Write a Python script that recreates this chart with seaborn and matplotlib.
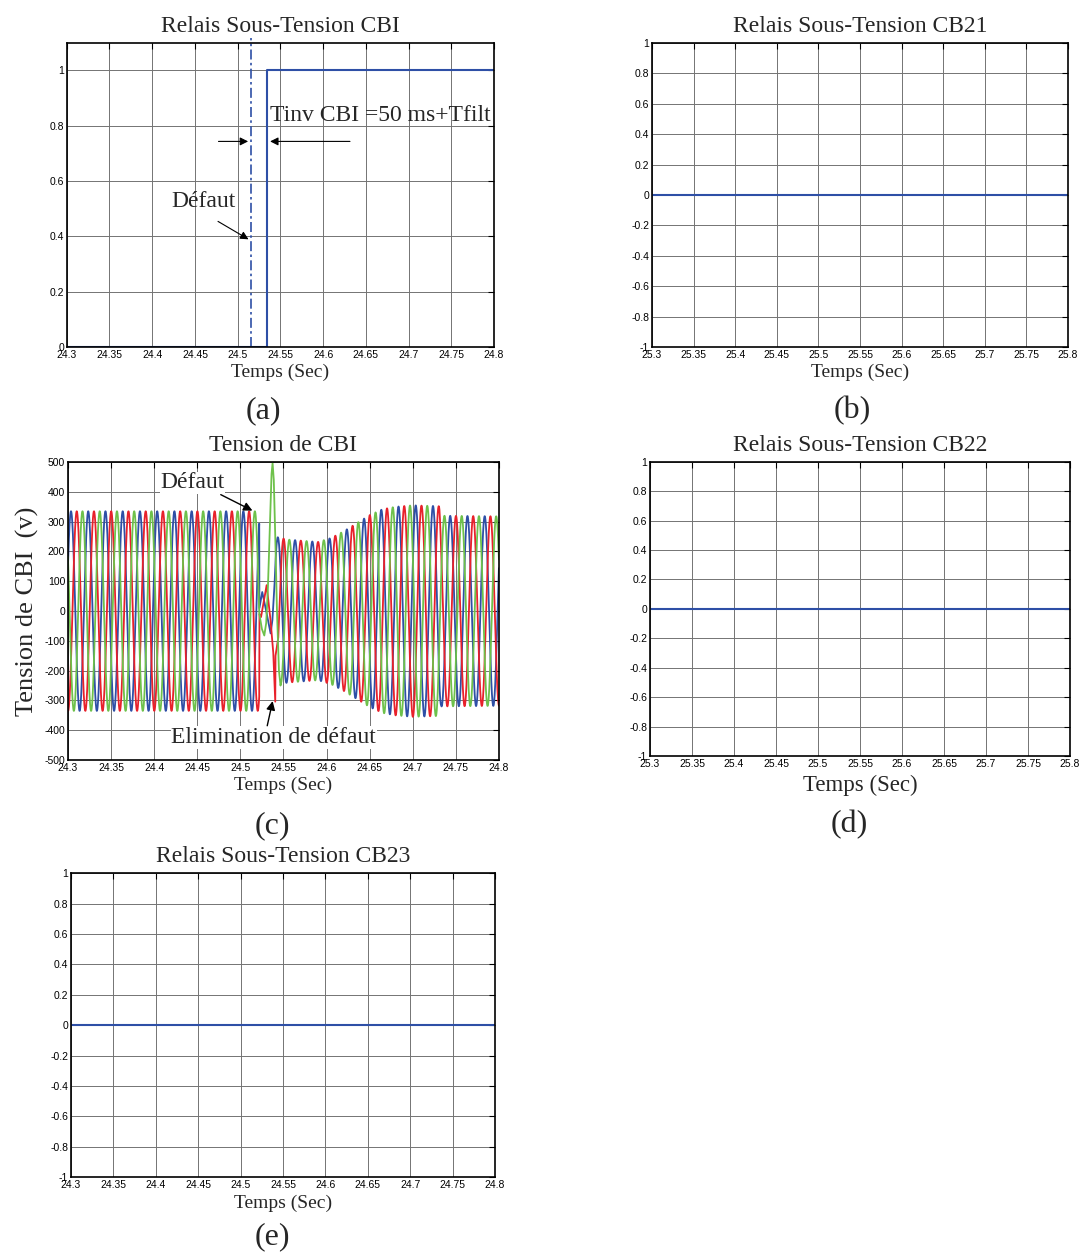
import numpy as np
import pandas as pd
import matplotlib
matplotlib.use("Agg")
import matplotlib.pyplot as plt
import seaborn as sns

# ---- data ----
# (a) undervoltage relay CBI : step 0 -> 1
relay_a_t = [24.3, 24.5347, 24.5347, 24.8]
relay_a_v = [0, 0, 1, 1]
defaut_a_t = 24.5155          # dash-dot fault instant

# (b), (d), (e) relays stay at 0
relay_b_t = [25.3, 25.8]
relay_d_t = [25.3, 25.8]
relay_e_t = [24.3, 24.8]
relay_flat_v = [0, 0]

# (c) three-phase voltage at CBI
f_net = 50.0                  # Hz
phase0 = 0.47                 # rad, blue phase at t = 24.3
t_fault = 24.5219
env_t = [24.3, 24.5219, 24.540, 24.555, 24.59, 24.605, 24.62, 24.635, 24.65,
         24.665, 24.68, 24.70, 24.731, 24.733, 24.8]
env_a = [335, 335, 250, 240, 232, 245, 268, 295, 322,
         342, 350, 355, 352, 320, 318]

blue_fault_t = [24.5221, 24.5254, 24.5300, 24.5351, 24.5372]
blue_fault_v = [10, 64, 0, -75, -30]
blue_resume = 24.5395

red_fault_t = [24.5222, 24.5240, 24.5305, 24.5350, 24.5382, 24.5405, 24.5408]
red_fault_v = [-10, -20, 87, -30, -140, -304, -150]
red_resume = 24.5440

green_fault_t = [24.5250, 24.5278, 24.5300, 24.5320, 24.5345, 24.5362, 24.5374,
                 24.5388, 24.5405, 24.5425, 24.5448, 24.5466]
green_fault_v = [-60, -82, -40, 80, 300, 460, 497, 440, 250, 0, -200, -250]
green_resume = 24.5475

x_ticks_24 = [24.3, 24.35, 24.4, 24.45, 24.5, 24.55, 24.6, 24.65, 24.7, 24.75, 24.8]
x_ticks_25 = [25.3, 25.35, 25.4, 25.45, 25.5, 25.55, 25.6, 25.65, 25.7, 25.75, 25.8]
y_ticks_relay = [-1, -0.8, -0.6, -0.4, -0.2, 0, 0.2, 0.4, 0.6, 0.8, 1]
y_ticks_a = [0, 0.2, 0.4, 0.6, 0.8, 1]
y_ticks_volt = [-500, -400, -300, -200, -100, 0, 100, 200, 300, 400, 500]

BLUE = "#2e4fa6"
RED = "#e8212b"
GREEN = "#6ec14b"

sns.set_style("white")
plt.rcParams["font.family"] = ["Liberation Serif", "DejaVu Serif"]
SANS = "Liberation Sans"
TITLE_FS = 17
XLAB_FS = 14

fig = plt.figure(figsize=(10.91, 12.54), dpi=100)
ax_a = fig.add_axes([0.0612, 0.7233, 0.3916, 0.2427])
ax_b = fig.add_axes([0.5976, 0.7233, 0.3813, 0.2424])
ax_c = fig.add_axes([0.0623, 0.3939, 0.3950, 0.2376])
ax_d = fig.add_axes([0.5958, 0.3971, 0.3850, 0.2347])
ax_e = fig.add_axes([0.0651, 0.0612, 0.3886, 0.2424])


def matlab_axes(ax, xt, yt, ylim):
    ax.set_xlim(xt[0], xt[-1])
    ax.set_ylim(*ylim)
    ax.set_xticks(xt)
    ax.set_yticks(yt)
    ax.set_xticklabels(["%g" % v for v in xt], fontfamily=SANS, fontsize=7.5)
    ax.set_yticklabels(["%g" % v for v in yt], fontfamily=SANS, fontsize=7.5)
    ax.grid(True, color="0.45", lw=0.7)
    ax.tick_params(direction="in", length=4, width=0.8, top=True, right=True,
                   pad=2, colors="black")
    for s in ax.spines.values():
        s.set_color("black")
        s.set_linewidth(1.2)
    ax.set_axisbelow(True)


def sine(t, offset):
    amp = np.interp(t, env_t, env_a)
    return amp * np.sin(2 * np.pi * f_net * (t - 24.3) + phase0 + offset)


# ---- (a) ----
sns.lineplot(x=relay_a_t, y=relay_a_v, ax=ax_a, color=BLUE, lw=1.5, sort=False,
             estimator=None)
ax_a.plot([defaut_a_t, defaut_a_t], [0, 1.115], color=BLUE, lw=1.2,
          ls=(0, (6, 2, 1.5, 2)), clip_on=False)
matlab_axes(ax_a, x_ticks_24, y_ticks_a, (0, 1.1))
ax_a.set_title("Relais Sous-Tension CBI", fontsize=TITLE_FS, pad=8)
ax_a.set_xlabel("Temps (Sec)", fontsize=XLAB_FS, labelpad=3)
ax_a.text(24.538, 0.835, "Tinv CBI =50 ms+Tfilt", fontsize=17, va="center",
          ha="left")
ax_a.annotate("", xy=(defaut_a_t, 0.743), xytext=(24.4743, 0.743),
              arrowprops=dict(arrowstyle="-|>", color="black", lw=0.8,
                              mutation_scale=12))
ax_a.annotate("", xy=(24.5347, 0.743), xytext=(24.6347, 0.743),
              arrowprops=dict(arrowstyle="-|>", color="black", lw=0.8,
                              mutation_scale=12))
ax_a.text(24.4605, 0.525, "Défaut", fontsize=17, ha="center", va="center")
ax_a.annotate("", xy=(defaut_a_t, 0.384), xytext=(24.4742, 0.459),
              arrowprops=dict(arrowstyle="-|>", color="black", lw=0.8,
                              mutation_scale=12))

# ---- (b) ----
sns.lineplot(x=relay_b_t, y=relay_flat_v, ax=ax_b, color=BLUE, lw=1.5)
matlab_axes(ax_b, x_ticks_25, y_ticks_relay, (-1, 1))
ax_b.set_title("Relais Sous-Tension CB21", fontsize=TITLE_FS, pad=8)
ax_b.set_xlabel("Temps (Sec)", fontsize=XLAB_FS, labelpad=3)

# ---- (c) ----
t = np.round(np.arange(24.3, 24.8001, 0.0001), 4)
rows = []
for name, off, ft, fv, res in [
        ("b", 0.0, blue_fault_t, blue_fault_v, blue_resume),
        ("r", -2 * np.pi / 3, red_fault_t, red_fault_v, red_resume),
        ("g", 2 * np.pi / 3, green_fault_t, green_fault_v, green_resume)]:
    pre = t[t <= t_fault]
    post = t[t >= res]
    tt = np.concatenate([pre, ft, post])
    vv = np.concatenate([sine(pre, off), fv, sine(post, off)])
    rows.append(pd.DataFrame({"t": tt, "v": vv, "phase": name}))
volt = pd.concat(rows, ignore_index=True)
for name, col in [("b", BLUE), ("r", RED), ("g", GREEN)]:
    sub = volt[volt["phase"] == name]
    sns.lineplot(data=sub, x="t", y="v", ax=ax_c, color=col, lw=1.3,
                 sort=False, estimator=None)
matlab_axes(ax_c, x_ticks_24, y_ticks_volt, (-500, 500))
ax_c.set_title("Tension de CBI", fontsize=TITLE_FS, pad=8)
ax_c.set_xlabel("Temps (Sec)", fontsize=XLAB_FS, labelpad=3)
ax_c.set_ylabel("Tension de CBI  (v)", fontsize=19, labelpad=4)
ax_c.text(24.4444, 430, "Défaut", fontsize=17, ha="center", va="center",
          bbox=dict(facecolor="white", edgecolor="none", pad=0.5))
ax_c.annotate("", xy=(24.5169, 333), xytext=(24.4744, 395),
              arrowprops=dict(arrowstyle="-|>", color="black", lw=1.0,
                              mutation_scale=13))
ax_c.text(24.5388, -425, "Elimination de défaut", fontsize=17, ha="center",
          va="center", bbox=dict(facecolor="white", edgecolor="none", pad=0.5))
ax_c.annotate("", xy=(24.5382, -293), xytext=(24.5305, -394),
              arrowprops=dict(arrowstyle="-|>", color="black", lw=1.0,
                              mutation_scale=13))

# ---- (d) ----
sns.lineplot(x=relay_d_t, y=relay_flat_v, ax=ax_d, color=BLUE, lw=1.5)
matlab_axes(ax_d, x_ticks_25, y_ticks_relay, (-1, 1))
ax_d.set_title("Relais Sous-Tension CB22", fontsize=TITLE_FS, pad=8)
ax_d.set_xlabel("Temps (Sec)", fontsize=16.5, labelpad=4)

# ---- (e) ----
sns.lineplot(x=relay_e_t, y=relay_flat_v, ax=ax_e, color=BLUE, lw=1.5)
matlab_axes(ax_e, x_ticks_24, y_ticks_relay, (-1, 1))
ax_e.set_title("Relais Sous-Tension CB23", fontsize=TITLE_FS, pad=8)
ax_e.set_xlabel("Temps (Sec)", fontsize=XLAB_FS, labelpad=3)

# panel letters
for lab, x, y in [("(a)", 263, 411), ("(b)", 852, 411), ("(c)", 272, 826),
                  ("(d)", 849, 825), ("(e)", 272, 1237)]:
    fig.text(x / 1091, 1 - y / 1254, lab, fontsize=23, ha="center", va="center")

fig.savefig("out.png", dpi=100)
